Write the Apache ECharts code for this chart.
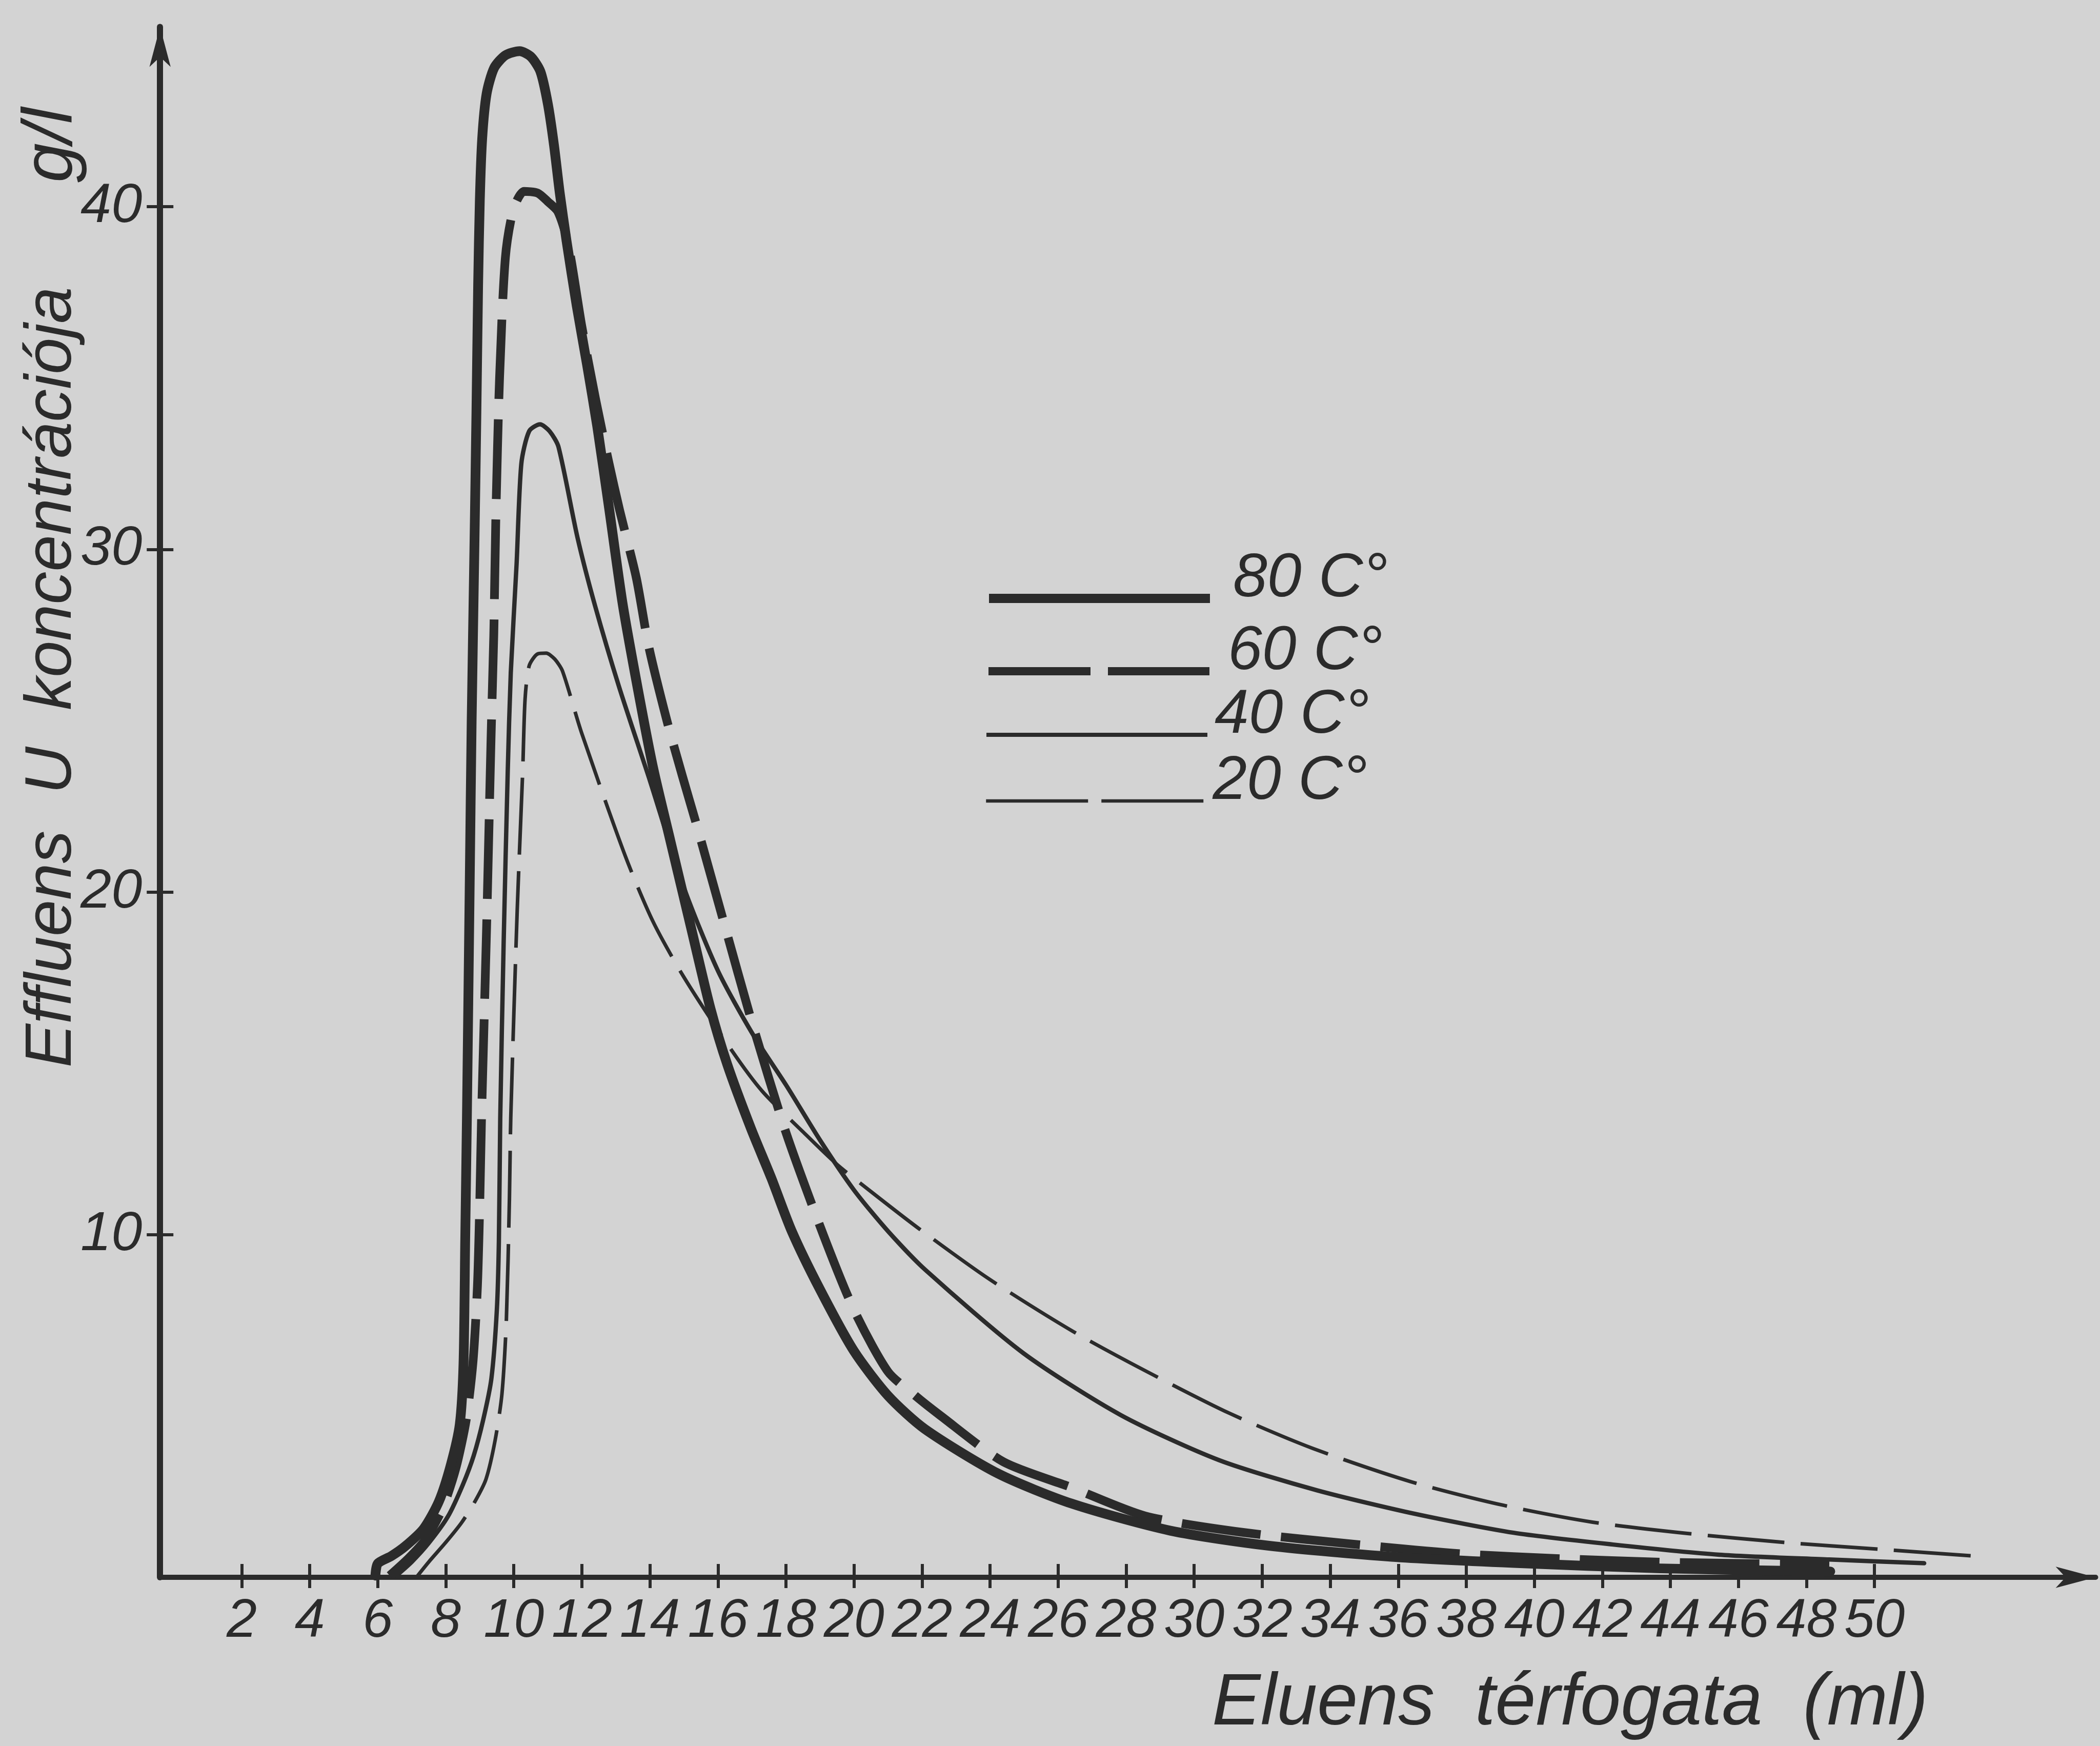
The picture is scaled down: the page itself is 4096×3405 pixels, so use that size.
<!DOCTYPE html>
<html>
<head>
<meta charset="utf-8">
<script src="https://cdn.jsdelivr.net/npm/echarts@6.0.0/dist/echarts.min.js"></script>
<style>
html,body{margin:0;padding:0;background:#d3d3d3;}
#chart{width:4096px;height:3405px;}
</style>
</head>
<body>
<div id="chart"></div>
<script>
// ---- data ----
const seriesNames = ['80 C°', '60 C°', '40 C°', '20 C°'];
const xTickValues = [2,4,6,8,10,12,14,16,18,20,22,24,26,28,30,32,34,36,38,40,42,44,46,48,50];
const yTickValues = [10,20,30,40];

const curve80 = [[5.93,0.05],[6.0,0.4],[6.4,0.62],[6.8,0.9],[7.35,1.42],[7.8,2.22],[8.15,3.29],[8.41,4.46],[8.52,6.24],[8.57,9.83],[8.62,13.4],[8.7,20.0],[8.76,25.0],[8.84,30.0],[8.9,34.0],[8.95,37.7],[9.0,40.2],[9.07,42.0],[9.2,43.3],[9.42,44.05],[9.75,44.42],[10.17,44.54],[10.5,44.38],[10.78,43.95],[11.0,43.0],[11.18,41.8],[11.35,40.4],[11.55,39.0],[11.85,37.1],[12.15,35.4],[12.45,33.6],[12.8,31.2],[13.2,28.4],[13.65,25.9],[14.1,23.6],[14.6,21.5],[15.2,19.0],[15.78,16.6],[16.28,14.95],[16.97,13.1],[17.57,11.65],[18.17,10.1],[19.0,8.4],[20.0,6.6],[21.0,5.3],[22.08,4.33],[24.23,3.03],[26.4,2.15],[29.3,1.36],[32.2,0.92],[35.8,0.6],[39.4,0.42],[43.7,0.26],[48.7,0.17]];

const curve60 = [[6.35,0.05],[6.9,0.55],[7.4,1.1],[7.9,2.0],[8.3,3.2],[8.6,4.6],[8.8,6.3],[8.93,8.5],[9.0,11.0],[9.05,13.4],[9.2,19.0],[9.33,24.5],[9.41,27.5],[9.47,30.9],[9.58,35.0],[9.75,38.5],[9.98,39.9],[10.3,40.45],[10.7,40.4],[11.0,40.15],[11.3,39.85],[11.6,38.9],[12.0,36.5],[12.4,34.4],[12.8,32.5],[13.11,31.14],[13.6,29.17],[13.96,27.19],[14.5,25.0],[14.95,23.4],[15.41,21.83],[16.2,19.02],[17.0,16.2],[18.0,12.98],[19.1,9.99],[20.0,7.8],[21.0,6.0],[21.8,5.3],[22.5,4.75],[24.39,3.37],[26.4,2.62],[28.56,1.79],[31.44,1.31],[34.76,0.96],[37.94,0.68],[40.83,0.54],[43.72,0.44],[48.67,0.37]];

const curve40 = [[6.55,0.05],[7.0,0.45],[7.5,1.0],[8.06,1.77],[8.5,2.7],[8.82,3.55],[9.1,4.6],[9.34,5.8],[9.5,7.8],[9.56,9.8],[9.6,13.4],[9.7,18.5],[9.82,23.5],[9.91,26.4],[10.08,29.56],[10.22,32.5],[10.45,33.45],[10.77,33.65],[11.05,33.45],[11.31,33.0],[11.87,30.35],[12.38,28.38],[13.09,26.0],[14.0,23.25],[15.0,20.13],[16.0,17.7],[17.0,15.89],[18.0,14.37],[19.0,12.76],[20.0,11.3],[21.0,10.1],[22.1,8.97],[24.98,6.54],[27.85,4.73],[30.73,3.42],[33.61,2.54],[36.5,1.85],[39.39,1.3],[42.28,0.96],[45.43,0.66],[48.67,0.52],[51.46,0.41]];

const curve20 = [[7.15,0.02],[7.5,0.45],[8.0,1.02],[8.46,1.59],[8.85,2.2],[9.18,2.86],[9.45,4.0],[9.65,5.35],[9.78,7.5],[9.87,11.04],[9.91,13.42],[10.1,19.5],[10.26,23.52],[10.33,25.63],[10.45,26.6],[10.7,26.95],[10.95,26.97],[11.2,26.8],[11.43,26.45],[11.99,24.65],[13.28,21.04],[14.09,19.14],[14.99,17.53],[16.39,15.4],[17.3,14.19],[18.5,13.0],[19.5,12.05],[20.61,11.17],[21.93,10.16],[23.98,8.7],[26.43,7.18],[28.52,6.05],[31.03,4.79],[33.49,3.76],[36.37,2.79],[39.1,2.1],[41.71,1.61],[44.5,1.28],[47.31,1.02],[50.15,0.82],[53.08,0.61]];

const xAxisTitle = 'Eluens  térfogata  (ml)';
const yAxisTitle = 'Effluens  U  koncentrációja';
const yAxisUnit = 'g/l';

// ---- styling ----
const INK = '#2b2b2b';
const BG = '#d3d3d3';
const FONT = '"Liberation Sans", Arial, sans-serif';

const chart = echarts.init(document.getElementById('chart'), null, {renderer: 'canvas'});

function tickAxis(inside, len, withLine, withLabel, isX) {
  return {
    type: 'value',
    position: isX ? 'bottom' : 'left',
    min: isX ? -0.4 : 0,
    max: isX ? 56.5 : 45.25,
    splitLine: {show: false},
    axisLine: withLine ? {
      show: true, onZero: false,
      symbol: ['none', 'arrow'], symbolSize: [31, 78],
      lineStyle: {color: INK, width: isX ? 10 : 12}
    } : {show: false, onZero: false},
    axisTick: {
      show: true, inside: inside, length: len,
      customValues: isX ? xTickValues : yTickValues,
      lineStyle: {color: INK, width: 6}
    },
    axisLabel: withLabel ? {
      show: true,
      customValues: isX ? xTickValues : yTickValues,
      margin: isX ? 34 : 35,
      fontSize: isX ? 106 : 108,
      fontStyle: 'italic',
      fontFamily: FONT,
      color: INK
    } : {show: false},
    silent: true
  };
}

const styles = [
  {width: 19, type: 'solid', cap: 'round'},
  {width: 17, type: [155, 40], cap: 'butt'},
  {width: 8.5, type: 'solid', cap: 'round'},
  {width: 7, type: [150, 32], cap: 'butt'}
];
const curves = [curve80, curve60, curve40, curve20];
const legendLine = [
  {width: 18, type: 'solid', pad: 40, top: 1070},
  {width: 16, type: [199, 34], pad: 31, top: 1212},
  {width: 8, type: 'solid', pad: 9, top: 1336},
  {width: 6.5, type: [199, 26], pad: 6, top: 1465}
];

const option = {
  backgroundColor: BG,
  animation: false,
  grid: {left: 312.2, right: 8.5, top: 52.4, bottom: 329, containLabel: false, outerBoundsMode: 'none'},
  xAxis: [tickAxis(false, 21, true, true, true), tickAxis(true, 26, false, false, true)],
  yAxis: [tickAxis(false, 26, true, true, false), tickAxis(true, 26, false, false, false)],
  legend: seriesNames.map((n, i) => ({
    show: true,
    orient: 'vertical',
    left: 1920,
    top: legendLine[i].top,
    padding: 0,
    itemWidth: 431,
    itemHeight: 20,
    selectedMode: false,
    itemStyle: {opacity: 0},
    formatter: function (name) { return name + '\n'; },
    textStyle: {fontSize: 120, fontStyle: 'italic', fontFamily: FONT, color: INK, lineHeight: 74},
    data: [{
      name: n,
      lineStyle: {width: legendLine[i].width, type: legendLine[i].type, color: INK, cap: 'butt'},
      textStyle: {fontSize: 120, fontStyle: 'italic', fontFamily: FONT, color: INK, lineHeight: 74,
                  padding: [0, 0, 0, legendLine[i].pad]}
    }]
  })),
  series: seriesNames.map((n, i) => ({
    name: n,
    type: 'line',
    xAxisIndex: 0,
    yAxisIndex: 0,
    data: curves[i],
    symbol: 'none',
    showSymbol: false,
    smooth: 0.25,
    clip: false,
    silent: true,
    emphasis: {disabled: true},
    lineStyle: {color: INK, width: styles[i].width, type: styles[i].type, cap: styles[i].cap, join: 'round'},
    z: 10 - i
  })),
  graphic: [
    {type: 'text', x: 2364, y: 3323, silent: true,
     style: {text: xAxisTitle, font: 'italic 142px ' + FONT, fill: INK,
             align: 'left', verticalAlign: 'middle', textAlign: 'left', textVerticalAlign: 'middle'}},
    {type: 'text', x: 102, y: 2082, rotation: Math.PI / 2, silent: true,
     style: {text: yAxisTitle, font: 'italic 128px ' + FONT, fill: INK,
             align: 'left', verticalAlign: 'middle', textAlign: 'left', textVerticalAlign: 'middle'}},
    {type: 'text', x: 102, y: 356, rotation: Math.PI / 2, silent: true,
     style: {text: yAxisUnit, font: 'italic 138px ' + FONT, fill: INK,
             align: 'left', verticalAlign: 'middle', textAlign: 'left', textVerticalAlign: 'middle'}}
  ]
};
chart.setOption(option);
</script>
</body>
</html>
